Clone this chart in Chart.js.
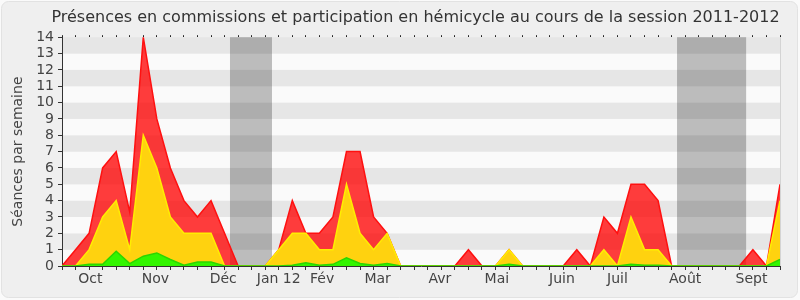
<!DOCTYPE html>
<html>
<head>
<meta charset="utf-8">
<script src="https://cdn.jsdelivr.net/npm/chart.js@4.4.0/dist/chart.umd.min.js"></script>
<style>
  body { margin: 0; background: #fafafa; }
  canvas { display: block; }
</style>
</head>
<body>
<canvas id="presenceChart" width="800" height="300"></canvas>
<script>
// one value per week, from the first week of the session
const semaines = [...Array(54).keys()];
const presences = [0, 1, 2, 6, 7, 3.3, 14, 9, 6, 4, 3, 4, 2, 0, 0, 0, 1, 4, 2, 2, 3, 7, 7, 3, 2, 0, 0, 0,
  0, 0, 1, 0, 0, 1, 0, 0, 0, 0, 1, 0, 3, 2, 5, 5, 4, 0, 0, 0, 0, 0, 0, 1, 0, 5];
const commissions = [0, 0, 1, 3, 4, 1, 8, 6, 3, 2, 2, 2, 0, 0, 0, 0, 1, 2, 2, 1, 1, 5, 2, 1, 2, 0, 0, 0,
  0, 0, 0, 0, 0, 1, 0, 0, 0, 0, 0, 0, 1, 0, 3, 1, 1, 0, 0, 0, 0, 0, 0, 0, 0, 4];
const hemicycle = [0, 0, 0.1, 0.1, 0.9, 0.15, 0.6, 0.8, 0.4, 0.05, 0.25, 0.25, 0, 0, 0, 0, 0, 0.05, 0.2, 0.05, 0.1, 0.5, 0.15, 0.05, 0.15, 0, 0, 0,
  0, 0, 0, 0, 0, 0.1, 0, 0, 0, 0, 0, 0, 0, 0, 0.1, 0.05, 0.05, 0, 0, 0, 0, 0, 0, 0, 0, 0.4];

const mois = ['Oct', 'Nov', 'Déc', 'Jan 12', 'Fév', 'Mar', 'Avr', 'Mai', 'Juin', 'Juil', 'Août', 'Sept'];
const moisPos = [2.1, 6.9, 11.9, 16.0, 19.2, 23.3, 27.9, 32.1, 36.9, 41.0, 46.0, 50.9];
const vacances = [[12.4, 15.5], [45.4, 50.5]];
const yTicks = [0, 1, 2, 3, 4, 5, 6, 7, 8, 9, 10, 11, 12, 13, 14];

const toPoints = arr => arr.map((v, i) => ({ x: semaines[i], y: v }));

// background panel, stripes and holiday bands
const fondPlugin = {
  id: 'fond',
  afterLayout(chart) {
    // title sits a bit right of the canvas centre in the original
    chart.titleBlock.left = 31;
    chart.titleBlock.right = 800;
  },
  beforeDraw(chart) {
    const { ctx, chartArea: a, scales } = chart;
    ctx.save();
    ctx.fillStyle = '#fafafa';
    ctx.fillRect(0, 0, chart.width, chart.height);
    ctx.beginPath();
    ctx.roundRect(1.5, 1.5, chart.width - 4, chart.height - 4, 7);
    ctx.fillStyle = '#efefef';
    ctx.fill();
    ctx.strokeStyle = '#e2e2e2';
    ctx.stroke();

    const y = scales.y, x = scales.x;
    for (let k = 0; k < 14; k++) {
      ctx.fillStyle = k % 2 ? '#e6e6e6' : '#fafafa';
      const top = y.getPixelForValue(k + 1), bot = y.getPixelForValue(k);
      ctx.fillRect(a.left, top, a.right - a.left, bot - top);
    }
    ctx.globalCompositeOperation = 'multiply';
    ctx.fillStyle = '#c0c0c0';
    vacances.forEach(([d, f]) => {
      const x0 = x.getPixelForValue(d), x1 = x.getPixelForValue(f);
      ctx.fillRect(x0, a.top, x1 - x0, a.bottom - a.top);
    });
    ctx.globalCompositeOperation = 'source-over';
    ctx.strokeStyle = '#d4d4d4';
    ctx.beginPath();
    ctx.moveTo(a.right + 0.5, a.top);
    ctx.lineTo(a.right + 0.5, a.bottom);
    ctx.stroke();
    ctx.restore();
  }
};

Chart.defaults.font.family = 'DejaVu Sans';
Chart.defaults.color = '#444';

const chart = new Chart(document.getElementById('presenceChart').getContext('2d'), {
  type: 'line',
  data: {
    datasets: [{
      label: 'Hémicycle',
      data: toPoints(hemicycle),
      borderColor: '#2bd600',
      backgroundColor: 'rgb(51, 245, 0)',
      fill: 'origin'
    }, {
      label: 'Commissions',
      data: toPoints(commissions),
      borderColor: '#ffee00',
      backgroundColor: 'rgb(255, 210, 15)',
      fill: 'origin'
    }, {
      label: 'Présences',
      data: toPoints(presences),
      borderColor: '#ff1010',
      backgroundColor: 'rgba(255, 0, 0, 0.76)',
      fill: 'origin'
    }]
  },
  options: {
    responsive: false,
    animation: false,
    layout: { padding: { left: 0, right: 20, top: 0, bottom: 0 } },
    elements: {
      point: { radius: 0 },
      line: { borderWidth: 1.5, tension: 0 }
    },
    plugins: {
      legend: { display: false },
      tooltip: { enabled: false },
      title: {
        display: true,
        text: 'Présences en commissions et participation en hémicycle au cours de la session 2011-2012',
        color: '#333',
        font: { size: 16, weight: 'normal' },
        padding: { top: 8, bottom: 10 }
      }
    },
    scales: {
      x: {
        type: 'linear',
        min: 0,
        max: 53,
        position: 'bottom',
        afterBuildTicks: s => {
          s.ticks = semaines.map(v => ({ value: v }))
            .concat(moisPos.map((v, i) => ({ value: v, mois: mois[i] })));
        },
        afterFit: s => { s.height = 34; },
        grid: {
          drawOnChartArea: false,
          tickLength: 4,
          tickColor: c => (c.tick && c.tick.mois ? 'rgba(0,0,0,0)' : '#333')
        },
        border: { color: '#333' },
        ticks: {
          autoSkip: false,
          maxRotation: 0,
          minRotation: 0,
          padding: 1,
          font: { size: 14 },
          callback: (v, i, ticks) => ticks[i].mois || ''
        }
      },
      xTop: {
        type: 'linear',
        min: 0,
        max: 53,
        position: 'top',
        afterBuildTicks: s => { s.ticks = semaines.map(v => ({ value: v })); },
        afterFit: s => { s.height = 0; },
        grid: { drawOnChartArea: false, tickLength: 2, tickColor: '#222' },
        border: { display: false },
        ticks: { display: false }
      },
      y: {
        min: 0,
        max: 14,
        afterBuildTicks: s => { s.ticks = yTicks.map(v => ({ value: v })); },
        afterFit: s => { s.width = 62; },
        grid: { drawOnChartArea: false, tickLength: 4, tickColor: '#333' },
        border: { color: '#333' },
        ticks: { autoSkip: false, padding: 4, font: { size: 14 } },
        title: {
          display: true,
          text: 'Séances par semaine',
          font: { size: 14 },
          padding: { top: 10, bottom: 0 }
        }
      }
    }
  },
  plugins: [fondPlugin]
});
</script>
</body>
</html>
